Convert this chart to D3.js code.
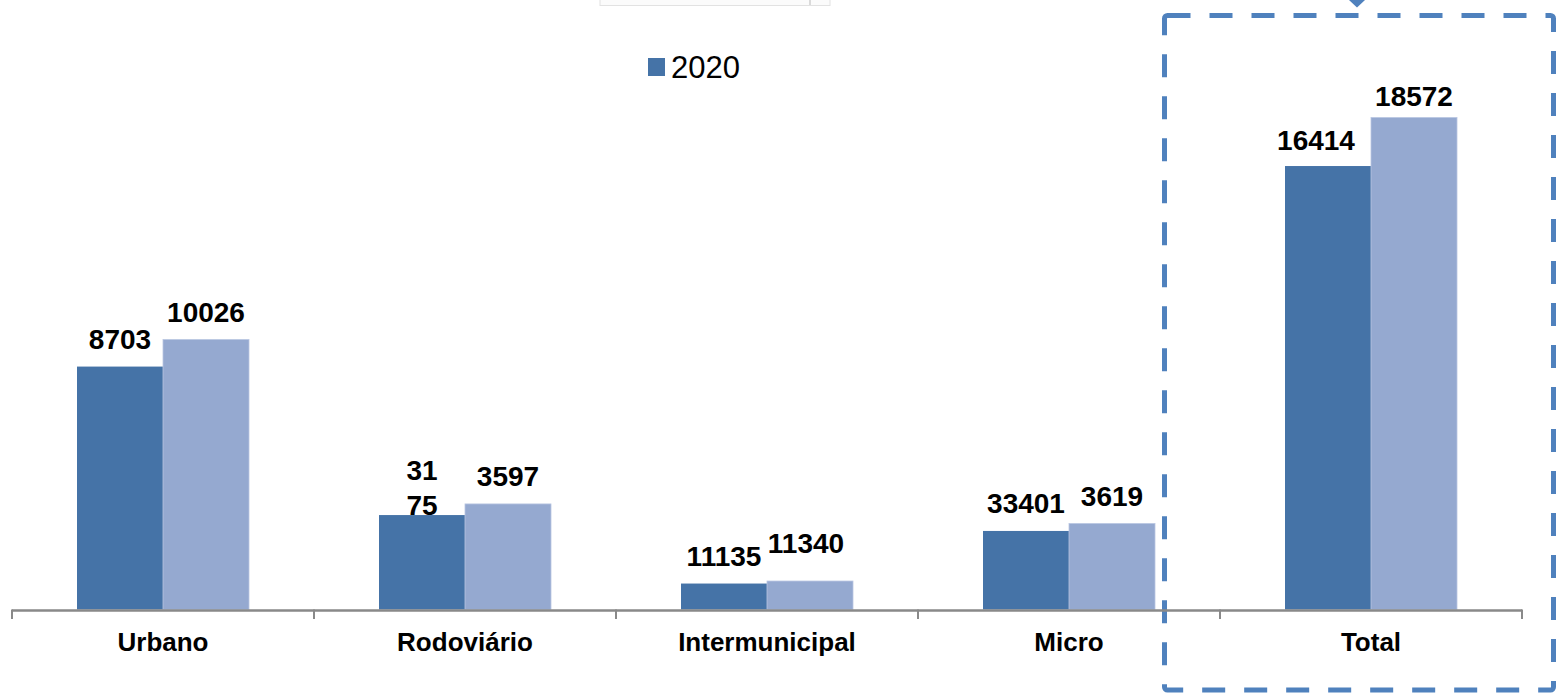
<!DOCTYPE html>
<html>
<head>
<meta charset="utf-8">
<script src="https://cdn.jsdelivr.net/npm/d3@7/dist/d3.min.js"></script>
<style>
  html, body { margin: 0; padding: 0; background: #ffffff; }
  svg { display: block; font-family: "Liberation Sans", Arial, sans-serif; }
</style>
</head>
<body>
<svg id="chart" width="1560" height="699"></svg>
<script>
// ---- data ----
const categories = ["Urbano", "Rodoviário", "Intermunicipal", "Micro", "Total"];
const seriesNames = ["2020", "2021"];
// bar heights (the printed labels do not match the bar scale)
const values2020 = [9170, 3565, 980, 2965, 16740];
const values2021 = [10190, 3985, 1075, 3245, 18572];
// data labels as printed (lines)
const labels2020 = [["8703"], ["31", "75"], ["11135"], ["33401"], ["16414"]];
const labels2021 = [["10026"], ["3597"], ["11340"], ["3619"], ["18572"]];
const legendLabels = ["2020"];

const colors = { "2020": "#4573A7", "2021": "#95A9D0" };

const svg = d3.select("#chart");
const baseY = 609.5;

const x0 = d3.scaleBand().domain(categories).range([12, 1522]).paddingInner(0).paddingOuter(0);
const barW = 86;
const x1 = d3.scaleBand().domain(seriesNames)
  .range([x0.bandwidth() / 2 - barW, x0.bandwidth() / 2 + barW]).padding(0);
const y = d3.scaleLinear().domain([0, 20000]).range([baseY, baseY - 20000 * (492 / 18572)]);

// top cropped box
svg.append("rect").attr("x", 600).attr("y", -3).attr("width", 230).attr("height", 8.5)
  .attr("fill", "#fbfbfb").attr("stroke", "#e2e2e2").attr("stroke-width", 1);
svg.append("line").attr("x1", 810).attr("x2", 810).attr("y1", 0).attr("y2", 5)
  .attr("stroke", "#cfcfcf").attr("stroke-width", 1.5);

// dashed highlight box
svg.append("rect").attr("x", 1164.5).attr("y", 15.5).attr("width", 389).attr("height", 674.5)
  .attr("rx", 3).attr("fill", "none").attr("stroke", "#4F81BD").attr("stroke-width", 5)
  .attr("stroke-dasharray", "23 19");
svg.append("polygon").attr("points", "1349,0 1365,0 1357,7.5").attr("fill", "#4F81BD");

// bars
const rows = categories.map((c, i) => ({
  cat: c,
  vals: [
    { s: "2020", v: values2020[i], lab: labels2020[i] },
    { s: "2021", v: values2021[i], lab: labels2021[i] }
  ]
}));

const groups = svg.append("g").selectAll("g").data(rows).join("g")
  .attr("transform", d => `translate(${x0(d.cat)},0)`);

groups.selectAll("rect").data(d => d.vals).join("rect")
  .attr("x", d => x1(d.s))
  .attr("width", x1.bandwidth())
  .attr("y", d => y(d.v))
  .attr("height", d => baseY - y(d.v))
  .attr("fill", d => colors[d.s])
  .attr("stroke", d => d.s === "2021" ? "#b9c6e2" : "none")
  .attr("stroke-width", 0.8);

// label placement tweaks (Excel's auto-adjusted positions)
const nudge = { "Intermunicipal|2021": [-4, -10], "Total|2020": [-12, 2], "Total|2021": [0, 6] };

groups.each(function (row) {
  const g = d3.select(this);
  row.vals.forEach(d => {
    const k = nudge[row.cat + "|" + d.s] || [0, 0];
    const cx = x1(d.s) + x1.bandwidth() / 2 + k[0];
    const midBase = y(d.v) - 18 + k[1];
    const n = d.lab.length;
    const t = g.append("text")
      .attr("text-anchor", "middle")
      .attr("font-size", 28).attr("font-weight", "bold").attr("fill", "#000");
    d.lab.forEach((line, j) => {
      t.append("tspan").attr("x", cx).attr("y", midBase + (j - (n - 1) / 2) * 35).text(line);
    });
  });
});

// axis
const ax = svg.append("g");
ax.append("line").attr("x1", x0.range()[0]).attr("x2", x0.range()[1])
  .attr("y1", baseY + 1).attr("y2", baseY + 1)
  .attr("stroke", "#898989").attr("stroke-width", 2.5);
const bounds = categories.map(c => x0(c)).concat([x0.range()[1]]);
ax.selectAll("line.tick").data(bounds).join("line").attr("class", "tick")
  .attr("x1", d => d).attr("x2", d => d).attr("y1", baseY).attr("y2", 619)
  .attr("stroke", "#898989").attr("stroke-width", 2);
ax.selectAll("text").data(categories).join("text")
  .attr("x", d => x0(d) + x0.bandwidth() / 2)
  .attr("y", 651)
  .attr("text-anchor", "middle")
  .attr("font-size", 26).attr("font-weight", "bold").attr("fill", "#000")
  .text(d => d);

// legend
const lg = svg.append("g");
legendLabels.forEach((l) => {
  lg.append("rect").attr("x", 648).attr("y", 58).attr("width", 17).attr("height", 18)
    .attr("fill", colors[l]);
  lg.append("text").attr("x", 671).attr("y", 78).attr("font-size", 31).attr("fill", "#000").text(l);
});
</script>
</body>
</html>
